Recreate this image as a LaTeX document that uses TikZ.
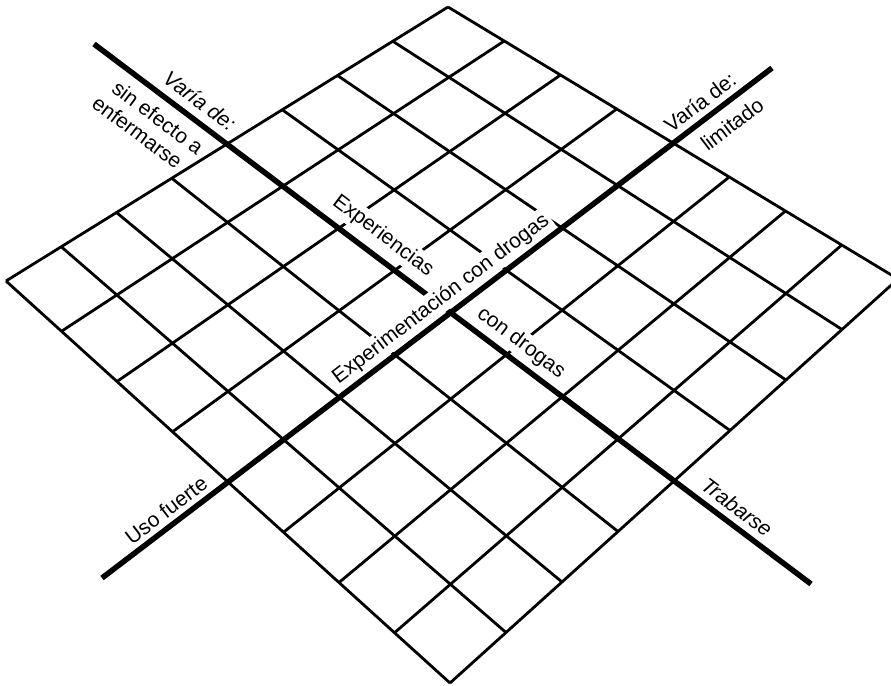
\documentclass[tikz,border=0pt]{standalone}
\usepackage{fontspec}
\setmainfont{Liberation Sans}
\usetikzlibrary{calc}
\begin{document}
\begin{tikzpicture}[x=1pt,y=-1pt,
  gridline/.style={line width=2.8pt},
  axisline/.style={line width=5.5pt},
  lbl/.style={font=\fontsize{21}{25}\selectfont, inner sep=0pt},
  ilbl/.style={font=\fontsize{21}{25}\selectfont\itshape, inner sep=0pt},
  cutlbl/.style={lbl, fill=white, inner sep=3pt}]
\useasboundingbox (0,0) rectangle (891,685);
\fill[white] (0,0) rectangle (891,685);
\clip (0,0) rectangle (891,685);
% corners of the grid
\coordinate (T) at (448,7);
\coordinate (R) at (898,279);
\coordinate (B) at (450,683);
\coordinate (L) at (6,281);
% grid
\foreach \i in {0,...,8} {
  \draw[gridline] ($(T)!\i/8!(L)$) -- ($(R)!\i/8!(B)$);
  \draw[gridline] ($(T)!\i/8!(R)$) -- ($(L)!\i/8!(B)$);
}
% axis end points
\coordinate (a1s) at (94,44);
\coordinate (a1e) at (811,584);
\coordinate (a2s) at (102,578);
\coordinate (a2e) at (772,68);
% labels that cut the grid
\node[cutlbl, rotate=-37] (exper) at (383,236) {Experiencias};
\node[cutlbl, rotate=-37] (condr) at (521,343) {con drogas};
% axis 1
\draw[axisline] (a1s) -- (a1e);
\node[cutlbl, rotate=37.3] (expm) at (441,299) {Experimentación con drogas};
% axis 2
\draw[axisline] (a2s) -- (a2e);
% outer labels
\node[ilbl, rotate=-37] (varia1) at (200,101) {Varía de:};
\node[lbl, rotate=-37] (sinef) at (158,117.5) {sin efecto a};
\node[lbl, rotate=-37] (enferm) at (137.5,132) {enfermarse};
\node[lbl, rotate=37.3] (varia2) at (700,102) {Varía de:};
\node[lbl, rotate=37.3] (limit) at (732,124) {limitado};
\node[lbl, rotate=37.3] (uso) at (166,510) {Uso fuerte};
\node[ilbl, rotate=-37] (trab) at (737,507) {Trabarse};
\end{tikzpicture}
\end{document}
